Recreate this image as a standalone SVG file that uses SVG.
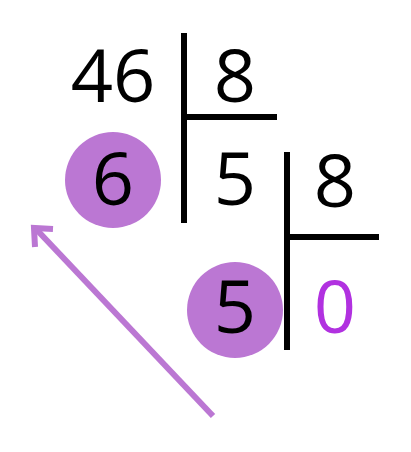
<svg xmlns="http://www.w3.org/2000/svg" width="411" height="452" viewBox="0 0 411 452">
<style>
.t{font-family:"Open Sans","Noto Sans",sans-serif;font-size:74px;text-anchor:middle;fill:#000}
.ln{stroke:#000;stroke-width:6;fill:none}
.c{fill:#BB77D3}
</style>
<rect width="411" height="452" fill="#fff"/>
<g id="connectors">
<line class="ln" x1="184" y1="33" x2="184" y2="223"/>
<line class="ln" x1="184" y1="117" x2="277" y2="117"/>
<line class="ln" x1="287" y1="152" x2="287" y2="350"/>
<line class="ln" x1="287" y1="237" x2="379" y2="237"/>
<g stroke="#BB77D3" stroke-width="6" fill="none" stroke-linecap="butt">
<line x1="213" y1="416" x2="36" y2="229"/>
<polyline points="35,247 34,228 53,229"/>
</g>
</g>
<g id="n46"><text class="t" x="113" y="102">46</text></g>
<g id="n8a"><text class="t" x="235" y="102">8</text></g>
<g id="n6"><circle class="c" cx="113" cy="180" r="48"/><text class="t" x="113" y="205">6</text></g>
<g id="n5a"><text class="t" x="235" y="205">5</text></g>
<g id="n8b"><text class="t" x="335" y="207">8</text></g>
<g id="n5b"><circle class="c" cx="235" cy="310" r="48"/><text class="t" x="235" y="333">5</text></g>
<g id="n0"><text class="t" x="335" y="333" style="fill:#B131E0">0</text></g>
</svg>
